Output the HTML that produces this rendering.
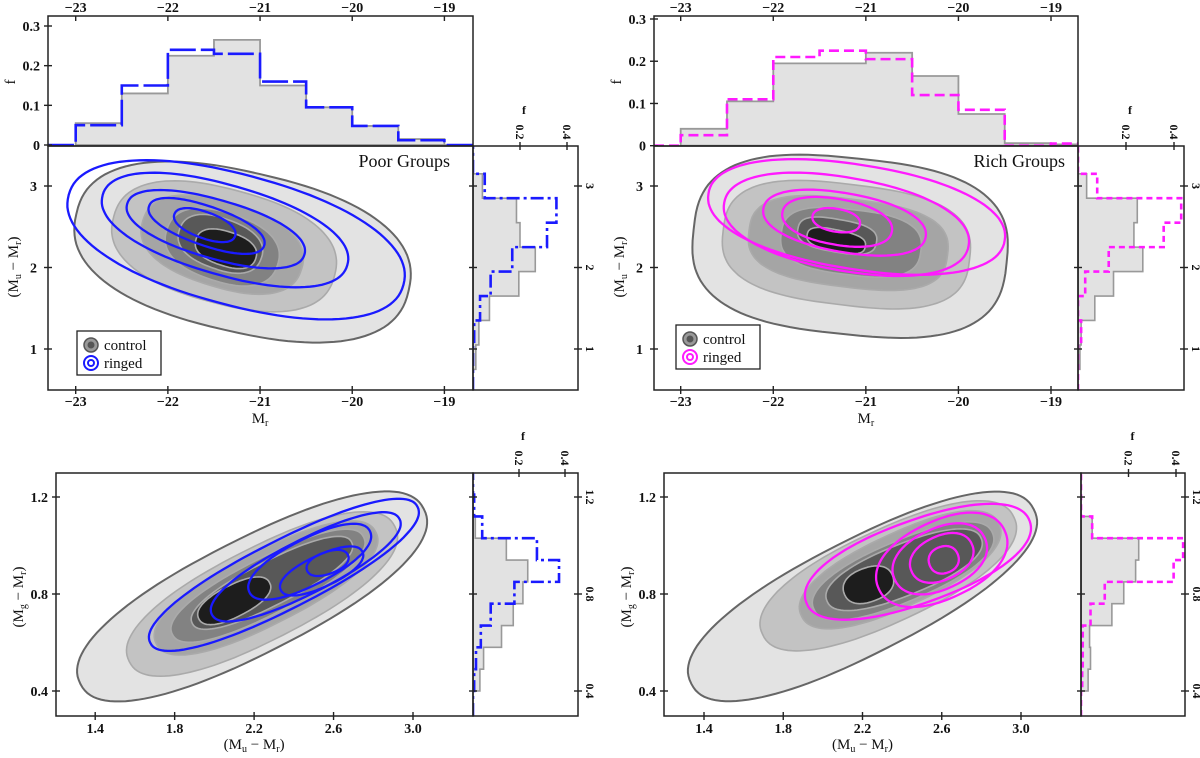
<!DOCTYPE html>
<html><head><meta charset="utf-8"><style>
html,body{margin:0;padding:0;background:#fff}
svg text{font-family:"Liberation Serif",serif;fill:#111}
.tk{font-size:14px;font-weight:bold}
.lb{font-size:15px}
</style></head><body>
<svg id="fig" xmlns="http://www.w3.org/2000/svg" width="1200" height="753" viewBox="0 0 1200 753"></svg>
<script>
// ---------- data ----------
const mrEdges = [-23,-22.5,-22,-21.5,-21,-20.5,-20,-19.5,-19,-18.5];
const poorCtrlMr = [0.055,0.13,0.225,0.265,0.15,0.095,0.048,0.015,0];
const poorRingMr = [0.05,0.15,0.24,0.23,0.16,0.095,0.048,0.012,0];
const richCtrlMr = [0.04,0.105,0.195,0.195,0.22,0.165,0.075,0.006,0.003];
const richRingMr = [0.025,0.11,0.21,0.225,0.205,0.12,0.085,0,0.005];
const umrEdges = [0.75,1.05,1.35,1.65,1.95,2.25,2.55,2.85,3.15];
const poorCtrlUmr = [0.012,0.025,0.07,0.195,0.265,0.2,0.185,0.04];
const poorRingUmr = [0,0.005,0.03,0.075,0.167,0.315,0.355,0.05];
const richCtrlUmr = [0.008,0.013,0.07,0.148,0.27,0.233,0.247,0.036];
const richRingUmr = [0,0.013,0,0.03,0.128,0.357,0.43,0.08];
const gmrEdges = [0.40,0.49,0.58,0.67,0.76,0.85,0.94,1.03,1.12,1.21];
const poorCtrlGmr = [0.03,0.046,0.124,0.175,0.217,0.238,0.145,0.01,0];
const poorRingGmr = [0.005,0.013,0.034,0.077,0.18,0.374,0.278,0.04,0.005];
const richCtrlGmr = [0.03,0.04,0.036,0.13,0.18,0.23,0.243,0.047,0];
const richRingGmr = [0.005,0.007,0.007,0.04,0.10,0.39,0.43,0.047,0];
// contour shapes: [centerX, centerY, semiAxisX(data), semiAxisY(data), tiltDeg]
const poorCtrlCMD = [[-21.19,2.19,1.85,0.98,13],[-21.39,2.26,1.24,0.70,15],[-21.41,2.28,0.90,0.52,17],[-21.41,2.25,0.63,0.42,18],[-21.43,2.29,0.47,0.31,20],[-21.37,2.23,0.34,0.21,18]];
const poorRingCMD = [[-21.26,2.34,1.88,0.80,15],[-21.38,2.46,1.38,0.55,16],[-21.48,2.47,1.00,0.36,16],[-21.58,2.51,0.66,0.24,19],[-21.60,2.52,0.35,0.16,20]];
const richCtrlCMD = [[-21.17,2.26,1.70,1.08,6],[-21.21,2.28,1.34,0.74,7],[-21.19,2.30,1.08,0.54,7],[-21.16,2.31,0.76,0.40,7],[-21.31,2.39,0.43,0.20,10],[-21.32,2.33,0.32,0.13,12]];
const richRingCMD = [[-21.10,2.62,1.62,0.64,9],[-21.21,2.53,1.34,0.57,10],[-21.23,2.55,0.89,0.36,10],[-21.31,2.56,0.60,0.28,10],[-21.32,2.58,0.26,0.14,10]];
const poorCtrlCC = [[2.19,0.79,0.97,0.235,-27],[2.24,0.80,0.75,0.19,-27],[2.26,0.825,0.62,0.15,-27],[2.27,0.834,0.54,0.115,-27],[2.29,0.846,0.45,0.09,-27],[2.10,0.772,0.20,0.065,-27]];
const poorRingCC = [[2.35,0.879,0.755,0.14,-27],[2.46,0.912,0.53,0.11,-27],[2.48,0.933,0.34,0.095,-27],[2.54,0.895,0.227,0.065,-25],[2.57,0.928,0.11,0.045,-20]];
const richCtrlCC = [[2.20,0.79,0.97,0.235,-27],[2.33,0.875,0.70,0.19,-25],[2.39,0.90,0.55,0.15,-25],[2.405,0.895,0.49,0.125,-23],[2.41,0.90,0.42,0.105,-22],[2.23,0.838,0.13,0.07,-20]];
const richRingCC = [[2.48,0.933,0.60,0.17,-20],[2.60,0.941,0.35,0.16,-25],[2.59,0.945,0.25,0.125,-25],[2.60,0.949,0.167,0.09,-25],[2.61,0.941,0.076,0.055,-20]];
const mrTicks = [-23,-22,-21,-20,-19];
const fTicks = [0,0.1,0.2,0.3];
const umrTicks = [1,2,3];
const ccXTicks = [1.4,1.8,2.2,2.6,3.0];
const gmrTicks = [0.4,0.8,1.2];
const sideFTicks = [0.2,0.4];
const grays = ['#e3e3e3','#c3c3c3','#a5a5a5','#828282','#585858','#1d1d1d'];

// ---------- helpers ----------
const NS='http://www.w3.org/2000/svg';
const svg=document.getElementById('fig');
function mk(tag,attrs,parent,txt){const e=document.createElementNS(NS,tag);for(const k in attrs)e.setAttribute(k,attrs[k]);if(txt!==undefined)e.textContent=txt;(parent||svg).appendChild(e);return e;}
function lin(d0,p0,d1,p1){return v=>p0+(v-d0)*(p1-p0)/(d1-d0);}
function fmt(v){return (v<0?'\u2212':'')+Math.abs(v);}
function fmt1(v){return v.toFixed(1);}
function box(x0,y0,x1,y1,name){const r=mk('rect',{x:x0,y:y0,width:x1-x0,height:y1-y0,fill:'none',stroke:'#222','stroke-width':1.5});}
function clip(id,x0,y0,x1,y1){const c=mk('clipPath',{id:id});mk('rect',{x:x0,y:y0,width:x1-x0,height:y1-y0},c);}
function superPath(cx,cy,rx,ry,ang,n){
  const th=ang*Math.PI/180,c=Math.cos(th),s=Math.sin(th);let d='';
  for(let i=0;i<=120;i++){const t=i/120*2*Math.PI,ct=Math.cos(t),st=Math.sin(t);
    const u=rx*Math.sign(ct)*Math.pow(Math.abs(ct),2/n),v=ry*Math.sign(st)*Math.pow(Math.abs(st),2/n);
    d+=(i?'L':'M')+(cx+u*c-v*s).toFixed(1)+' '+(cy+u*s+v*c).toFixed(1);}
  return d+'Z';}

function topHist(g,sx,sf,edges,ctrl,ring,color,dash,x0,x1,name){
  let d='M'+sx(edges[0])+' '+sf(0);
  ctrl.forEach((v,i)=>{d+=' L'+sx(edges[i])+' '+sf(v)+' L'+sx(edges[i+1])+' '+sf(v);});
  d+=' L'+sx(edges[edges.length-1])+' '+sf(0)+' Z';
  const p=mk('path',{d:d,fill:'#e2e2e2',stroke:'#999','stroke-width':1.8},g);
  
  let r='M'+x0+' '+sf(0)+' L'+sx(edges[0])+' '+sf(0);
  ring.forEach((v,i)=>{r+=' L'+sx(edges[i])+' '+sf(v)+' L'+sx(edges[i+1])+' '+sf(v);});
  r+=' L'+sx(edges[edges.length-1])+' '+sf(0)+' L'+x1+' '+sf(0);
  const q=mk('path',{d:r,fill:'none',stroke:color,'stroke-width':2.6,'stroke-dasharray':dash},g);
  
}
function sideHist(g,sf,sy,edges,ctrl,ring,color,dash,y0,y1,name){
  let d='M'+sf(0)+' '+sy(edges[0]);
  ctrl.forEach((v,i)=>{d+=' L'+sf(v)+' '+sy(edges[i])+' L'+sf(v)+' '+sy(edges[i+1]);});
  d+=' L'+sf(0)+' '+sy(edges[edges.length-1])+' Z';
  const p=mk('path',{d:d,fill:'#e2e2e2',stroke:'#999','stroke-width':1.6},g);
  
  let r='M'+sf(0)+' '+y1+' L'+sf(0)+' '+sy(edges[0]);
  ring.forEach((v,i)=>{r+=' L'+sf(v)+' '+sy(edges[i])+' L'+sf(v)+' '+sy(edges[i+1]);});
  r+=' L'+sf(0)+' '+sy(edges[edges.length-1])+' L'+sf(0)+' '+y0;
  const q=mk('path',{d:r,fill:'none',stroke:color,'stroke-width':2.6,'stroke-dasharray':dash},g);
  
}
function contours(g,sx,sy,ctrl,ring,color,name,nC){
  const kx=Math.abs(sx(1)-sx(0)),ky=Math.abs(sy(1)-sy(0));
  ctrl.forEach((c,i)=>{
    const e=mk('path',{d:superPath(sx(c[0]),sy(c[1]),c[2]*kx,c[3]*ky,c[4],nC),fill:grays[i],stroke:i==0?'#666':'#aaa','stroke-width':i==0?2:1.6},g);
    });
  ring.forEach((c,i)=>{
    const e=mk('path',{d:superPath(sx(c[0]),sy(c[1]),c[2]*kx,c[3]*ky,c[4],2.2),fill:'none',stroke:color,'stroke-width':2.3},g);
    });
}
function xTicks(sx,ticks,y,labY,f){ticks.forEach(t=>{const x=sx(t);mk('line',{x1:x,y1:y-4,x2:x,y2:y+4,stroke:'#222','stroke-width':1.4});
  const tx=mk('text',{x:x,y:labY,'text-anchor':'middle',class:'tk'},svg,f(t));});}
function yTicks(sy,ticks,x,labX,f){ticks.forEach(t=>{const y=sy(t);mk('line',{x1:x-4,y1:y,x2:x+4,y2:y,stroke:'#222','stroke-width':1.4});
  const tx=mk('text',{x:labX,y:y+5,'text-anchor':'end',class:'tk'},svg,f(t));});}
function sideTicks(sy,ticks,xl,xr,f){ticks.forEach(t=>{const y=sy(t);
  mk('line',{x1:xl-4,y1:y,x2:xl+4,y2:y,stroke:'#222','stroke-width':1.4});
  mk('line',{x1:xr-4,y1:y,x2:xr+4,y2:y,stroke:'#222','stroke-width':1.4});
  const tx=mk('text',{x:xr+8,y:y,'text-anchor':'middle',class:'tk',transform:'rotate(90 '+(xr+8)+' '+y+')',style:'font-size:12px'},svg,f(t));
  });}
function sideFAxis(sf,top,ticksY){sideFTicks.forEach(t=>{const x=sf(t);mk('line',{x1:x,y1:top-4,x2:x,y2:top+4,stroke:'#222','stroke-width':1.4});
  const tx=mk('text',{x:x,y:ticksY,'text-anchor':'middle',class:'tk',transform:'rotate(90 '+x+' '+ticksY+')',style:'font-size:12px','dominant-baseline':'central'},svg,fmt1(t));
  });
  const ft=mk('text',{x:sf(0.2)+4,y:ticksY-18,'text-anchor':'middle',class:'tk',style:'font-size:12px'},svg,'f');
  }
function rlabel(x,y,html,name){const t=mk('text',{x:x,y:y,'text-anchor':'middle',class:'lb',transform:'rotate(-90 '+x+' '+y+')'});t.innerHTML=html;}
function hlabel(x,y,html,name){const t=mk('text',{x:x,y:y,'text-anchor':'middle',class:'lb'});t.innerHTML=html;}
const UMR='(M<tspan font-size="10" dy="3">u</tspan><tspan dy="-3"> \u2212 M</tspan><tspan font-size="10" dy="3">r</tspan><tspan dy="-3">)</tspan>';
const GMR='(M<tspan font-size="10" dy="3">g</tspan><tspan dy="-3"> \u2212 M</tspan><tspan font-size="10" dy="3">r</tspan><tspan dy="-3">)</tspan>';
const MR='M<tspan font-size="10" dy="3">r</tspan>';

function legend(x,y,color,name){const g=mk('g',{});
  mk('rect',{x:x,y:y,width:84,height:44,fill:'#fff',stroke:'#222','stroke-width':1.3},g);
  mk('circle',{cx:x+14,cy:y+14,r:7,fill:'#999',stroke:'#555','stroke-width':1.5},g);
  mk('circle',{cx:x+14,cy:y+14,r:3.5,fill:'#555'},g);
  mk('circle',{cx:x+14,cy:y+32,r:7,fill:'none',stroke:color,'stroke-width':2},g);
  mk('circle',{cx:x+14,cy:y+32,r:3,fill:'none',stroke:color,'stroke-width':2},g);
  mk('text',{x:x+27,y:y+19,style:'font-size:15px'},g,'control');
  mk('text',{x:x+27,y:y+37,style:'font-size:15px'},g,'ringed');}

function panelSet(o){
  const sx=lin(-23,o.xm23,-19,o.xm19), sfh=lin(0,o.f0,0.3,o.f03), sy=lin(3,186,2,267.5);
  const sfs=lin(0,o.x1,0.2,o.s02);
  clip(o.n+'c1',o.x0,16,o.x1,146);clip(o.n+'c2',o.x0,146,o.x1,390);clip(o.n+'c3',o.x1,146,o.x2,390);
  const g1=mk('g',{'clip-path':'url(#'+o.n+'c1)'});
  topHist(g1,sx,sfh,mrEdges,o.cMr,o.rMr,o.col,o.dTop,o.x0,o.x1,o.n);
  const g2=mk('g',{'clip-path':'url(#'+o.n+'c2)'});
  contours(g2,sx,sy,o.cCMD,o.rCMD,o.col,o.n+'-cmd',o.nTop);
  const g3=mk('g',{'clip-path':'url(#'+o.n+'c3)'});
  sideHist(g3,sfs,sy,umrEdges,o.cUmr,o.rUmr,o.col,o.dSide,146,390,o.n+'-umr');
  box(o.x0,16,o.x1,146,o.n+'-top-hist-frame');box(o.x0,146,o.x1,390,o.n+'-cmd-frame');box(o.x1,146,o.x2,390,o.n+'-side-frame');
  mrTicks.forEach(t=>{const x=sx(t);mk('line',{x1:x,y1:16,x2:x,y2:21,stroke:'#222','stroke-width':1.4});
    const tx=mk('text',{x:x,y:12,'text-anchor':'middle',class:'tk'},svg,fmt(t));});
  xTicks(sx,mrTicks,390,406,fmt);
  yTicks(sfh,fTicks,o.x0,o.x0-8,v=>v===0?'0':fmt1(v));
  yTicks(sy,umrTicks,o.x0,o.x0-11,v=>String(v));
  sideTicks(sy,umrTicks,o.x1,o.x2,v=>String(v));
  sideFAxis(sfs,146,132);
  rlabel(o.x0-33,82,'f',o.n+'-f-axis-title');
  rlabel(o.x0-30,267,UMR,o.n+'-umr-axis-title');
  hlabel(sx(-21),423,MR,o.n+'-mr-axis-title');
  const tt=mk('text',{x:o.titleX,y:167,'text-anchor':'end',style:'font-size:18px'},svg,o.title);
  legend(o.legX,o.legY,o.col,o.n+'-legend');
  const bx=lin(1.4,o.bx14,3.0,o.bx30), by=lin(1.2,497,0.4,691), bsf=lin(0,o.bx1,0.2,o.bs02);
  clip(o.n+'c4',o.bx0,473,o.bx1,716);clip(o.n+'c5',o.bx1,473,o.bx2,716);
  const g4=mk('g',{'clip-path':'url(#'+o.n+'c4)'});
  contours(g4,bx,by,o.cCC,o.rCC,o.col,o.n+'-cc',2.3);
  const g5=mk('g',{'clip-path':'url(#'+o.n+'c5)'});
  sideHist(g5,bsf,by,gmrEdges,o.cGmr,o.rGmr,o.col,o.dSide,473,716,o.n+'-gmr');
  box(o.bx0,473,o.bx1,716,o.n+'-cc-frame');box(o.bx1,473,o.bx2,716,o.n+'-cc-side-frame');
  xTicks(bx,ccXTicks,716,733,fmt1);
  yTicks(by,gmrTicks,o.bx0,o.bx0-8,fmt1);
  sideTicks(by,gmrTicks,o.bx1,o.bx2,fmt1);
  sideFAxis(bsf,473,458);
  hlabel(bx(2.2),749,UMR,o.n+'-cc-x-axis-title');
  rlabel(o.bx0-33,597,GMR,o.n+'-gmr-axis-title');
}
panelSet({n:'poor',x0:48,x1:473,x2:578,xm23:75.7,xm19:444.4,f0:145,f03:26,s02:520,nTop:2.4,
  cMr:poorCtrlMr,rMr:poorRingMr,cUmr:poorCtrlUmr,rUmr:poorRingUmr,cCMD:poorCtrlCMD,rCMD:poorRingCMD,
  col:'#1a1aff',dTop:'26 5',dSide:'13 4 3 4',title:'Poor Groups',titleX:450,legX:77,legY:331,
  bx0:56,bx1:473,bx2:578,bx14:95.2,bx30:413,bs02:519,cCC:poorCtrlCC,rCC:poorRingCC,cGmr:poorCtrlGmr,rGmr:poorRingGmr});
panelSet({n:'rich',x0:654,x1:1078,x2:1184,xm23:680.7,xm19:1051,f0:145.7,f03:19,s02:1126,nTop:2.8,
  cMr:richCtrlMr,rMr:richRingMr,cUmr:richCtrlUmr,rUmr:richRingUmr,cCMD:richCtrlCMD,rCMD:richRingCMD,
  col:'#ff1aff',dTop:'10 5',dSide:'6 4',title:'Rich Groups',titleX:1065,legX:676,legY:325,
  bx0:664,bx1:1081,bx2:1185,bx14:704,bx30:1021,bs02:1128.5,cCC:richCtrlCC,rCC:richRingCC,cGmr:richCtrlGmr,rGmr:richRingGmr});
</script>
</body></html>
